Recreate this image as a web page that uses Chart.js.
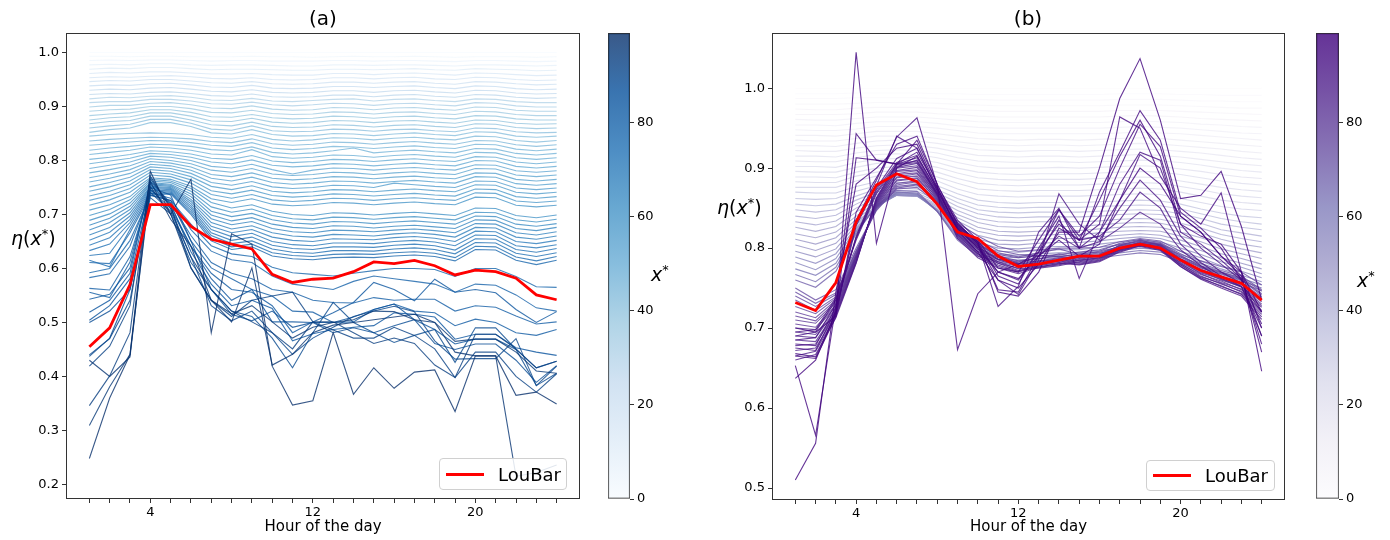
<!DOCTYPE html>
<html>
<head>
<meta charset="utf-8">
<title>η(x*) by hour of the day</title>
<script src="https://cdn.jsdelivr.net/npm/chart.js@4.4.1/dist/chart.umd.min.js"></script>
<style>
  html, body { margin:0; padding:0; background:#fff; }
  body { width:1390px; height:540px; position:relative; overflow:hidden; font-family:"DejaVu Sans", sans-serif; color:#000; }
  canvas { position:absolute; top:0; }
  .t { position:absolute; white-space:nowrap; line-height:1; }
  .c { transform:translate(-50%,-50%); }
  .v { transform:translateY(-50%); }
  .leg { position:absolute; box-sizing:border-box; border:1px solid #d0d0d0; border-radius:4px; background:rgba(255,255,255,0.85); }
  .leg .ln { position:absolute; height:3px; background:#ff0000; }
  .leg .tx { position:absolute; font-size:18px; line-height:1; transform:translateY(-50%); }
  sup { font-size:0.68em; vertical-align:0.5em; line-height:0; }
</style>
</head>
<body>
<canvas id="mainA" width="600" height="540" style="left:0px;width:600px;height:540px"></canvas>
<canvas id="cbarA" width="90" height="540" style="left:590px;width:90px;height:540px"></canvas>
<canvas id="mainB" width="605" height="540" style="left:700px;width:605px;height:540px"></canvas>
<canvas id="cbarB" width="90" height="540" style="left:1300px;width:90px;height:540px"></canvas>

<div class="t c" style="left:323px;top:18px;font-size:20px">(a)</div>
<div class="t c" style="left:1028px;top:18px;font-size:20px">(b)</div>
<div class="t v" style="left:11px;top:238px;font-size:19px"><i>η</i>(<i>x</i><sup>*</sup>)</div>
<div class="t v" style="left:717px;top:207px;font-size:19px"><i>η</i>(<i>x</i><sup>*</sup>)</div>
<div class="t v" style="left:651px;top:274px;font-size:19px"><i>x</i><sup>*</sup></div>
<div class="t v" style="left:1357px;top:280px;font-size:19px"><i>x</i><sup>*</sup></div>

<div class="leg" style="left:439px;top:458px;width:128px;height:32px">
  <div class="ln" style="left:6px;top:14px;width:38px"></div>
  <div class="tx" style="left:58px;top:16px">LouBar</div>
</div>
<div class="leg" style="left:1146px;top:460px;width:129px;height:31px">
  <div class="ln" style="left:6px;top:13px;width:38px"></div>
  <div class="tx" style="left:58px;top:15px">LouBar</div>
</div>

<script>
// ---------------- data (η values in thousandths) ----------------
const hours = [1,2,3,4,5,6,7,8,9,10,11,12,13,14,15,16,17,18,19,20,21,22,23,24];
const xTickLabels = [4,12,20];
const yTicksA = [0.2,0.3,0.4,0.5,0.6,0.7,0.8,0.9,1.0];
const yTicksB = [0.5,0.6,0.7,0.8,0.9,1.0];
const cbarTicks = [0,20,40,60,80];
const CBAR_MAX = 99;

const louBarA = [455,490,570,718,718,678,654,645,636,589,574,580,582,594,612,609,615,605,588,597,594,582,551,542];
const louBarB = [732,722,757,833,879,893,883,855,820,812,790,777,780,785,790,790,800,805,800,785,772,764,756,735];

const xStarA = [0,3,5,8,11,14,16,19,22,24,27,30,32,35,36,38,39,40,41,42,
  43,45,46,47,48,50,51,52,53,54,55,56,57,58,59,60,
  61,62,64,66,67,69,70,72,74,75,77,78,
  79,80,82,83,85,86,87,89,90,91,93,94,96,97,99];
const etaA = [
[1000,1000,1000,1000,1000,1000,1000,1000,1000,1000,1000,1000,1000,1000,1000,1000,1000,1000,1000,1000,1000,1000,1000,1000],
[993,993,992,993,993,992,992,992,993,992,992,991,992,993,992,992,993,992,991,992,992,992,991,992],
[985,986,985,986,986,985,984,985,985,984,984,984,985,985,984,985,985,984,983,985,985,984,983,984],
[977,978,977,979,979,977,976,977,977,976,975,975,977,977,976,977,977,976,975,977,977,976,975,976],
[969,971,970,972,972,970,968,969,969,968,967,967,969,969,968,969,970,968,967,970,969,968,966,967],
[961,963,962,964,964,962,960,960,961,959,958,958,961,961,959,961,962,960,958,962,961,959,957,958],
[953,955,954,956,957,955,952,951,953,950,949,950,953,953,951,953,954,951,950,954,953,950,948,949],
[946,948,947,950,950,947,944,943,946,942,941,942,945,945,943,945,946,943,941,946,945,942,940,941],
[938,940,939,942,943,940,936,935,939,934,933,934,937,937,935,937,938,935,933,938,937,933,931,932],
[930,932,931,934,935,932,928,927,931,926,925,926,929,929,926,929,930,927,925,930,929,925,923,924],
[922,924,923,926,927,924,920,919,923,918,917,918,921,921,918,921,922,919,917,922,921,917,915,916],
[914,917,916,919,920,917,912,911,915,910,909,911,913,914,910,913,914,911,909,914,913,909,907,907],
[907,909,909,913,913,910,905,904,908,903,901,903,906,905,902,905,906,903,901,907,906,901,899,899],
[899,902,902,906,907,903,897,896,901,895,893,894,898,897,894,897,898,895,893,899,898,893,891,891],
[891,894,895,900,900,896,889,888,893,887,885,886,890,889,886,889,890,887,885,891,890,885,883,883],
[883,886,888,894,894,889,881,880,885,879,877,878,882,881,878,881,882,879,877,883,882,877,875,875],
[875,879,881,888,888,882,873,872,878,871,869,870,874,873,870,873,874,871,869,875,874,869,867,868],
[868,872,874,882,882,875,866,864,871,863,861,862,866,865,862,865,866,863,861,868,867,861,859,860],
[860,864,867,876,876,869,858,856,864,855,853,854,858,857,854,857,858,855,853,860,859,853,851,852],
[852,857,860,870,870,863,851,849,857,848,845,846,850,849,846,849,851,848,846,853,852,845,843,845],
[845,848,850,851,850,848,843,841,848,839,836,838,842,841,838,841,843,840,838,845,844,837,834,837],
[836,839,841,843,842,840,835,833,840,831,828,830,834,833,830,833,835,832,830,837,836,829,826,829],
[828,831,834,837,836,833,828,826,833,823,820,822,826,825,822,825,827,824,822,830,829,821,818,821],
[819,823,826,830,829,826,820,818,825,815,812,814,818,823,814,817,819,816,814,822,821,813,810,813],
[811,815,819,825,823,819,812,810,820,807,804,806,810,809,806,809,811,808,806,815,814,805,802,805],
[802,806,811,818,816,812,804,802,809,799,796,798,802,801,798,801,803,800,798,807,806,797,794,797],
[794,799,804,813,811,806,797,794,801,791,788,790,794,793,790,793,795,792,790,800,799,789,786,789],
[785,791,797,808,806,800,789,786,793,783,775,782,786,785,782,785,787,784,782,792,791,781,778,781],
[777,783,790,803,800,794,782,778,785,775,772,774,778,777,774,777,779,776,774,785,784,773,770,773],
[768,775,783,798,795,788,774,770,777,767,764,766,770,769,766,769,771,768,766,777,776,765,762,765],
[760,767,776,793,790,782,767,762,769,759,756,758,762,761,758,761,763,760,758,770,769,757,754,757],
[751,759,769,788,785,776,759,754,761,751,748,750,754,753,750,758,755,752,750,762,761,749,746,749],
[743,751,762,783,780,770,752,746,753,743,740,742,746,745,742,745,747,744,742,755,754,741,738,741],
[734,743,755,778,775,764,744,738,745,735,732,734,738,737,734,737,739,736,734,747,746,733,730,733],
[726,735,748,773,770,758,737,730,737,727,724,726,730,729,726,729,731,728,726,740,739,725,722,725],
[717,727,741,768,765,752,729,722,729,719,716,718,722,721,718,721,723,720,718,732,731,717,714,717],
[708,718,733,765,762,748,722,712,718,706,700,698,703,702,699,702,704,701,698,712,711,698,694,699],
[698,709,727,762,759,743,714,704,710,698,692,690,695,694,691,694,696,693,690,704,703,690,686,691],
[689,701,721,759,756,738,706,696,702,690,684,682,687,686,683,686,688,685,682,697,696,682,678,683],
[680,693,715,757,754,733,699,688,694,682,676,674,679,678,675,678,680,677,674,690,689,674,670,676],
[671,685,709,755,752,728,692,681,687,674,668,666,671,670,668,671,673,670,666,683,682,666,662,668],
[662,676,703,752,750,724,685,673,679,666,660,658,663,662,660,664,666,663,658,676,675,658,654,660],
[652,667,697,750,748,720,678,666,672,658,652,650,655,654,653,657,659,656,650,669,668,650,646,652],
[643,657,691,748,746,716,672,659,665,650,644,642,647,647,646,650,652,649,642,662,661,642,638,644],
[633,645,685,745,744,712,666,652,658,643,637,635,640,640,639,643,645,642,634,655,654,635,630,637],
[624,628,679,742,742,708,661,646,651,636,630,628,633,633,632,636,638,635,627,648,647,628,622,629],
[615,603,672,739,740,704,656,640,645,629,624,622,626,627,626,629,631,628,620,641,640,621,614,622],
[611,609,666,736,738,700,651,635,640,623,618,616,620,621,620,623,625,622,614,635,634,615,607,615],
[592,600,652,735,726,682,642,627,622,602,592,589,586,591,596,600,600,598,585,600,600,585,566,565],
[583,590,641,740,730,672,632,616,611,586,571,566,561,576,586,581,576,571,556,571,569,551,527,521],
[563,560,622,745,721,661,611,591,581,561,556,541,537,536,546,541,543,543,521,531,528,512,497,501],
[556,546,612,750,736,651,601,581,561,549,521,519,500,501,524,534,521,518,494,506,500,481,476,487],
[543,552,601,756,716,641,591,561,556,531,481,501,518,537,574,561,540,580,556,561,555,524,500,520],
[519,541,591,761,721,631,571,531,541,526,466,479,487,491,494,518,515,510,469,478,478,453,445,439],
[504,531,581,746,711,641,581,541,561,501,501,500,500,510,524,534,505,487,460,469,469,450,416,428],
[500,521,561,736,726,651,561,515,503,521,491,500,481,490,481,494,505,461,450,460,460,430,389,420],
[437,471,561,731,701,611,561,521,511,471,416,481,537,500,481,463,476,487,426,490,490,450,383,406],
[440,470,541,741,706,621,531,503,521,481,441,471,491,511,521,530,520,466,432,433,433,470,383,419],
[419,456,531,766,716,601,541,511,541,549,556,501,486,471,471,491,476,451,398,445,445,400,371,405],
[346,401,481,771,711,621,561,521,501,481,451,501,501,481,461,471,461,421,398,478,478,451,416,428],
[309,381,441,751,701,601,541,516,531,501,471,491,500,505,521,520,505,500,465,469,469,445,410,406],
[430,400,436,761,691,641,541,501,601,421,441,481,495,500,505,510,515,500,445,438,438,215,222,236],
[248,360,440,780,700,765,481,664,645,419,347,355,481,367,416,378,408,412,335,438,438,365,371,349]
];

const xStarB = [0,2,3,4,6,7,9,10,11,13,14,16,17,19,20,22,23,24,26,27,
  33,36,38,41,43,45,47,49,51,53,55,57,59,63,66,70,
  75,76,77,78,79,80,81,82,83,84,85,86,87,88,89,90,91,
  92,93,93.5,94,95,96,96.5,97,98,98.5,99];
const etaB = [
[1000,1000,1000,1000,1000,1000,1000,1000,1000,1000,1000,1000,1000,1000,1000,1000,1000,1000,1000,1000,1000,1000,1000,1000],
[993,993,993,994,994,994,994,993,993,992,992,992,992,992,992,992,993,993,993,992,992,991,991,991],
[987,987,987,988,988,988,988,987,986,986,985,985,985,985,985,985,986,986,986,985,984,984,983,983],
[980,980,980,981,982,982,982,981,980,979,978,978,978,978,978,978,979,979,979,978,977,976,975,975],
[974,973,973,975,976,976,976,975,973,972,971,971,971,971,971,971,972,972,972,971,970,969,968,967],
[967,967,967,968,970,970,970,968,967,965,964,964,964,964,964,964,965,966,965,964,962,961,960,959],
[961,960,960,962,964,964,964,962,960,958,957,957,957,957,957,957,958,959,958,957,955,954,952,951],
[954,954,953,956,958,958,958,956,953,951,950,950,950,950,950,950,951,952,951,950,948,946,944,943],
[948,947,947,949,952,952,952,950,947,944,943,943,943,943,943,943,944,945,944,943,941,939,937,935],
[941,941,940,943,946,946,946,943,940,937,936,935,936,936,935,936,937,938,937,935,933,931,929,927],
[935,934,934,937,940,940,940,937,933,930,929,928,929,929,928,929,930,931,930,928,926,924,921,919],
[928,928,927,931,934,935,934,931,927,923,922,921,922,922,921,922,923,924,923,921,919,916,913,911],
[922,921,921,925,928,929,928,925,920,916,915,914,915,915,914,915,916,917,916,914,911,908,905,903],
[915,915,914,919,922,923,922,919,913,909,908,907,908,908,907,908,909,910,909,907,904,900,897,895],
[909,908,908,913,917,918,917,913,907,902,900,900,900,901,900,901,902,903,902,899,896,892,889,887],
[902,902,901,907,911,912,911,907,900,895,893,892,893,893,893,894,895,896,895,892,888,884,881,879],
[896,895,895,901,906,907,906,901,894,888,886,885,886,886,886,887,888,889,888,884,880,876,873,871],
[889,889,888,895,900,902,901,895,887,881,879,878,879,879,879,880,881,882,881,877,873,868,865,863],
[883,882,882,890,895,897,896,889,881,874,872,871,872,872,872,873,874,875,874,870,865,860,857,855],
[876,876,876,884,890,892,891,884,874,867,865,864,865,865,865,866,867,868,867,862,857,852,849,847],
[870,869,869,877,883,886,885,878,868,860,857,856,857,857,857,858,859,860,859,855,849,844,840,838],
[862,861,862,871,878,882,881,873,862,854,851,850,851,851,851,852,853,854,853,849,843,837,833,830],
[855,853,855,865,874,878,877,869,857,848,845,844,845,845,845,846,847,848,847,843,837,830,826,823],
[848,845,848,860,870,875,874,865,852,843,839,838,839,839,839,840,842,843,842,837,831,823,819,815],
[840,837,841,855,867,872,871,861,847,837,833,832,833,833,833,834,836,837,836,831,825,817,812,808],
[833,829,834,850,863,870,869,858,842,832,827,826,827,827,827,829,831,832,831,826,819,811,805,801],
[826,821,827,845,860,868,867,855,838,826,821,820,821,822,822,824,826,827,826,820,813,805,799,794],
[818,813,820,840,857,867,866,853,834,821,816,815,816,817,817,819,821,822,821,815,808,799,793,787],
[811,805,813,836,855,866,865,851,830,816,810,809,811,812,812,814,816,818,816,810,802,793,787,780],
[804,797,806,832,853,866,865,849,826,811,805,804,806,807,807,809,812,814,812,805,797,788,781,774],
[796,789,799,829,852,866,865,848,822,807,800,799,801,802,802,805,808,810,808,800,792,783,776,768],
[789,781,793,826,851,867,866,847,819,803,796,795,797,798,798,801,804,806,804,796,788,778,771,763],
[782,773,787,824,851,868,867,846,816,799,792,791,793,794,794,797,800,803,801,792,784,774,766,758],
[774,766,781,822,851,869,868,846,814,796,789,788,790,791,791,794,797,800,798,789,780,770,762,754],
[767,758,776,820,852,870,869,846,812,793,786,785,787,788,788,791,794,797,795,786,777,767,759,750],
[760,751,771,818,853,872,871,846,810,790,783,782,784,785,785,788,791,794,792,783,774,764,756,747],
[750,735,748,800,848,874,876,856,832,815,802,796,798,800,800,801,808,812,809,796,784,777,770,754],
[745,731,744,797,847,875,879,858,829,808,794,789,794,799,792,796,806,811,807,793,781,772,765,748],
[740,727,742,796,849,877,880,857,826,810,797,792,790,792,795,798,805,808,805,790,778,770,763,746],
[735,722,739,795,850,879,883,859,828,806,790,784,786,793,788,792,803,809,806,791,777,769,761,743],
[727,718,737,793,851,881,884,858,824,804,792,788,791,789,793,795,802,806,803,787,775,768,760,741],
[720,713,735,792,852,884,887,861,826,807,789,780,784,788,790,789,804,810,804,789,776,765,757,739],
[715,709,733,791,853,885,888,860,822,801,786,783,787,790,786,790,800,807,805,786,773,764,756,737],
[710,706,731,790,854,888,890,863,824,803,791,781,780,784,791,793,803,806,801,784,770,762,754,735],
[705,701,729,790,855,889,893,862,820,798,783,777,783,787,784,788,799,808,804,786,772,760,752,733],
[700,698,727,789,856,892,894,865,823,802,788,779,779,782,789,791,801,805,800,782,769,761,751,730],
[695,692,725,788,857,893,897,864,818,795,781,775,782,786,782,786,798,806,803,784,768,757,749,728],
[690,688,723,787,858,896,898,867,821,799,785,778,777,780,787,790,800,804,799,780,767,759,748,726],
[685,683,721,785,859,897,901,866,816,792,779,771,780,784,781,785,797,805,802,781,765,755,746,722],
[678,680,719,784,860,900,903,868,819,796,783,774,776,779,785,788,799,803,798,779,764,756,745,720],
[672,675,717,783,861,901,906,867,814,790,777,770,778,782,780,784,796,804,800,779,763,752,743,717],
[665,671,715,782,862,904,907,869,817,793,781,772,775,778,783,787,798,802,797,777,762,753,742,714],
[660,667,713,781,863,905,909,868,812,788,775,768,776,781,779,783,795,803,799,777,761,750,740,711],
[695,698,738,810,868,902,910,866,824,801,786,780,790,815,800,808,825,845,830,798,778,762,752,700],
[690,695,735,812,870,905,913,868,826,803,770,760,795,848,810,815,835,870,850,805,782,765,752,690],
[685,688,730,813,873,907,916,870,827,805,760,742,785,868,830,810,850,885,860,815,790,770,756,720],
[680,678,726,815,875,912,925,872,828,806,727,752,820,850,800,820,860,917,900,830,800,780,760,705],
[675,672,722,828,878,940,925,874,830,808,765,755,800,840,762,820,880,920,910,820,805,785,762,680],
[668,664,718,835,885,939,963,878,835,810,775,770,810,848,815,840,900,955,927,840,820,790,765,670],
[665,662,714,845,888,930,940,880,673,743,770,780,795,830,810,830,964,950,890,850,830,869,770,700],
[653,566,728,943,910,905,920,875,832,805,748,745,790,835,800,870,920,972,935,845,825,800,760,690],
[637,660,720,913,910,905,935,880,830,808,745,740,770,825,810,860,915,960,915,830,815,805,770,646],
[700,695,715,1045,806,900,915,872,825,800,770,762,790,810,790,805,860,900,880,840,820,790,770,720],
[510,556,745,880,900,925,930,876,822,795,760,750,780,820,820,900,987,1037,960,862,866,896,827,735]
];

// colormaps (matplotlib Blues / Purples anchor colours)
const BLUES = [[247,251,255],[222,235,247],[198,219,239],[158,202,225],[107,174,214],[66,146,198],[33,113,181],[8,81,156],[8,48,107]];
const PURPLES = [[252,251,253],[239,237,245],[218,218,235],[188,189,220],[158,154,200],[128,125,186],[106,81,163],[84,39,143],[63,0,125]];
const LINE_ALPHA = 0.8;
const FONT = '"DejaVu Sans", sans-serif';

// ---------------- helpers ----------------
function cmap(stops, t, alpha) {
  t = Math.max(0, Math.min(1, t));
  const p = t * (stops.length - 1);
  const i = Math.min(stops.length - 2, Math.floor(p));
  const f = p - i;
  const c = [0,1,2].map(k => Math.round(stops[i][k] + (stops[i+1][k] - stops[i][k]) * f));
  return `rgba(${c[0]},${c[1]},${c[2]},${alpha})`;
}
function gradient(chart, stops) {
  const a = chart.chartArea;
  if (!a) return 'rgba(0,0,0,0)';
  const g = chart.ctx.createLinearGradient(0, a.bottom, 0, a.top);
  stops.forEach((s, i) => g.addColorStop(i / (stops.length - 1), `rgba(${s[0]},${s[1]},${s[2]},${LINE_ALPHA})`));
  return g;
}
const frame = {
  id: 'frame',
  afterDraw(ch) {
    const {ctx, chartArea: a} = ch;
    ctx.save();
    ctx.strokeStyle = '#333';
    ctx.lineWidth = 1;
    ctx.strokeRect(Math.round(a.left) + 0.5, Math.round(a.top) + 0.5, Math.round(a.right - a.left) - 1, Math.round(a.bottom - a.top) - 1);
    ctx.restore();
  }
};

function mainChart(id, rows, xs, lou, stops, o) {
  const datasets = [{
    label: 'LouBar',
    data: lou.map((v, i) => ({x: hours[i], y: v / 1000})),
    borderColor: '#ff0000', borderWidth: 2.8, pointRadius: 0, order: 0
  }];
  rows.forEach((r, k) => datasets.push({
    label: 'x*=' + xs[k],
    data: r.map((v, i) => ({x: hours[i], y: v / 1000})),
    borderColor: cmap(stops, xs[k] / CBAR_MAX, LINE_ALPHA),
    borderWidth: 1.1, pointRadius: 0, order: 200 - xs[k]
  }));
  return new Chart(document.getElementById(id), {
    type: 'line',
    data: {datasets},
    options: {
      responsive: false, animation: false, events: [],
      layout: {padding: {left: 0, right: o.rightPad, top: o.top, bottom: 0}},
      plugins: {legend: {display: false}, tooltip: {enabled: false}},
      elements: {line: {tension: 0, fill: false}},
      scales: {
        x: {
          type: 'linear', min: -0.15, max: 25.15,
          afterBuildTicks: s => { s.ticks = hours.map(v => ({value: v})); },
          afterFit: s => { s.height = o.xh; },
          ticks: {autoSkip: false, maxRotation: 0, padding: 2, color: '#000', font: {family: FONT, size: 13},
                  callback: v => xTickLabels.includes(v) ? String(v) : ''},
          grid: {drawOnChartArea: false, drawTicks: true, tickLength: 4, color: '#333', lineWidth: 1},
          border: {display: false},
          title: {display: true, text: 'Hour of the day', color: '#000', font: {family: FONT, size: 15}, padding: {top: 0, bottom: 4}}
        },
        y: {
          type: 'linear', min: o.yMin, max: o.yMax,
          afterBuildTicks: s => { s.ticks = o.yTicks.map(v => ({value: v})); },
          afterFit: s => { s.width = o.yw; },
          ticks: {padding: 3, color: '#000', font: {family: FONT, size: 13}, callback: v => Number(v).toFixed(1)},
          grid: {drawOnChartArea: false, drawTicks: true, tickLength: 4, color: '#333', lineWidth: 1},
          border: {display: false}
        }
      }
    },
    plugins: [frame]
  });
}

function cbarChart(id, stops, o) {
  return new Chart(document.getElementById(id), {
    type: 'bar',
    data: {labels: [''], datasets: [{
      data: [[0, CBAR_MAX]],
      backgroundColor: c => gradient(c.chart, stops),
      borderColor: '#333', borderWidth: 1, borderSkipped: false,
      barPercentage: 1, categoryPercentage: 1
    }]},
    options: {
      responsive: false, animation: false, events: [],
      layout: {padding: {left: o.left, right: 0, top: o.top, bottom: o.bottom}},
      plugins: {legend: {display: false}, tooltip: {enabled: false}},
      scales: {
        x: {display: false},
        y: {
          position: 'right', min: 0, max: CBAR_MAX,
          afterBuildTicks: s => { s.ticks = cbarTicks.map(v => ({value: v})); },
          afterFit: s => { s.width = o.w; },
          ticks: {padding: 3, color: '#000', font: {family: FONT, size: 13}},
          grid: {drawOnChartArea: false, drawTicks: true, tickLength: 4, color: '#333'},
          border: {display: false}
        }
      }
    }
  });
}

mainChart('mainA', etaA, xStarA, louBarA, BLUES, {rightPad: 20, top: 33, xh: 41, yw: 66, yMin: 0.173, yMax: 1.036, yTicks: yTicksA});
mainChart('mainB', etaB, xStarB, louBarB, PURPLES, {rightPad: 20, top: 33, xh: 40, yw: 72, yMin: 0.485, yMax: 1.069, yTicks: yTicksB});
cbarChart('cbarA', BLUES, {left: 18, top: 33, bottom: 41, w: 50});
cbarChart('cbarB', PURPLES, {left: 16, top: 33, bottom: 41, w: 51});
</script>
</body>
</html>
